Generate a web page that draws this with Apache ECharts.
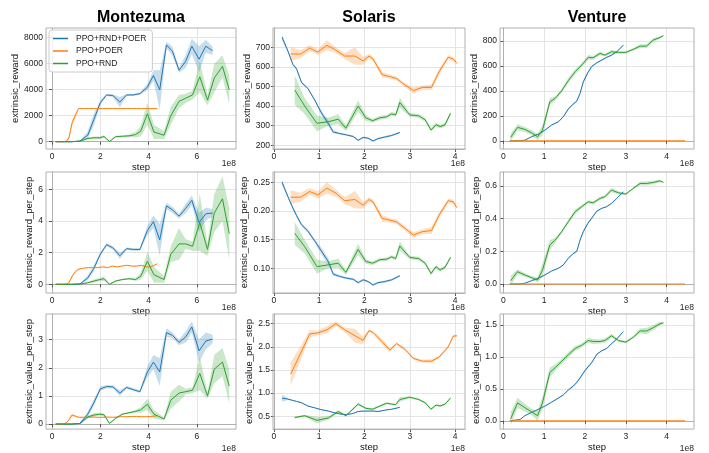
<!DOCTYPE html>
<html><head><meta charset="utf-8">
<script src="https://cdn.jsdelivr.net/npm/echarts@6/dist/echarts.min.js"></script>
<style>html,body{margin:0;padding:0;background:#fff}#c{width:709px;height:453px}</style>
</head><body><div id="c"></div>
<script>
// ---------- labels ----------
const seriesNames = ['PPO+RND+POER', 'PPO+POER', 'PPO+RND'];
const games = ['Montezuma', 'Solaris', 'Venture'];
const metrics = ['extrinsic_reward', 'extrinsic_reward_per_step', 'extrinsic_value_per_step'];
const xName = 'step';
const xOffsetText = '1e8';

// ---------- tick labels ----------
const monXTicks = ['0', '2', '4', '6'];
const solXTicks = ['0', '1', '2', '3', '4'];
const venXTicks = ['0', '1', '2', '3', '4'];
const monRTicks = ['0', '2000', '4000', '6000', '8000'];
const solRTicks = ['200', '300', '400', '500', '600', '700'];
const venRTicks = ['0', '200', '400', '600', '800'];
const monRPSTicks = ['0', '2', '4', '6'];
const solRPSTicks = ['0.10', '0.15', '0.20', '0.25'];
const venRPSTicks = ['0.0', '0.2', '0.4', '0.6'];
const monVTicks = ['0', '1', '2', '3'];
const solVTicks = ['0.5', '1.0', '1.5', '2.0', '2.5'];
const venVTicks = ['0.0', '0.5', '1.0', '1.5'];

// ---------- Montezuma (x in units of 1e8 steps) ----------
const monBlueX = [0.15,0.45,0.8,1.15,1.48,1.73,2.0,2.26,2.52,2.81,3.09,3.37,3.64,3.95,4.2,4.46,4.74,4.99,5.26,5.54,5.79,6.09,6.37,6.65];
const monBlueR = [0,0,0,50,500,1700,3000,3600,3550,3050,3600,3600,3700,4200,5100,4000,7450,6950,5500,6200,7350,6350,7350,7000];
const monBlueRErr = [0,0,0,30,300,450,200,80,100,400,80,80,80,250,400,1500,250,350,200,500,600,1000,500,300];
const monBlueRPS = [0,0,0,0.02,0.4,1.0,1.9,2.5,2.3,1.8,2.25,2.2,2.2,3.4,3.95,2.8,4.95,4.7,4.3,4.8,5.3,3.9,4.45,4.5];
const monBlueRPSErr = [0,0,0,0.02,0.15,0.2,0.1,0.1,0.1,0.2,0.08,0.08,0.08,0.3,0.4,1.0,0.2,0.2,0.15,0.3,0.3,0.6,0.4,0.25];
const monBlueV = [0,0,0,0.02,0.35,0.75,1.25,1.33,1.32,1.1,1.3,1.22,1.15,1.85,2.2,1.85,3.25,3.15,2.9,3.1,3.45,2.6,2.95,3.02];
const monBlueVErr = [0,0,0,0.02,0.1,0.12,0.08,0.06,0.06,0.1,0.05,0.05,0.05,0.2,0.25,0.5,0.15,0.1,0.1,0.2,0.2,0.4,0.3,0.15];

const monOrangeX = [0.15,0.45,0.6,0.7,0.83,0.97,1.1,1.3,1.5,1.7,1.9,2.1,2.3,2.5,2.7,2.9,3.1,3.3,3.5,3.7,3.9,4.1,4.36];
const monOrangeR = [0,0,50,300,1450,2050,2550,2550,2550,2550,2550,2550,2550,2550,2550,2550,2550,2550,2550,2550,2550,2550,2550];
const monOrangeRErr = [0,0,20,150,250,200,30,0,0,0,0,0,0,0,0,0,0,0,0,0,0,0,0];
const monOrangeRPS = [0,0,0.02,0.1,0.5,0.8,0.95,1.02,1.05,1.05,1.05,1.1,1.05,1.15,1.1,1.15,1.2,1.15,1.15,1.2,1.1,1.1,1.3];
const monOrangeRPSErr = [0,0,0.01,0.05,0.08,0.06,0.04,0.02,0.02,0.02,0.02,0.02,0.02,0.02,0.02,0.02,0.02,0.02,0.02,0.02,0.02,0.02,0.02];
const monOrangeV = [0,0,0.05,0.15,0.32,0.28,0.24,0.24,0.24,0.25,0.24,0.24,0.25,0.24,0.25,0.26,0.26,0.27,0.27,0.26,0.26,0.27,0.29];
const monOrangeVErr = [0,0,0.01,0.03,0.05,0.03,0.02,0.01,0.01,0.01,0.01,0.01,0.01,0.01,0.01,0.01,0.01,0.01,0.01,0.01,0.01,0.01,0.01];

const monGreenX = [0.15,0.45,0.8,1.18,1.48,1.73,1.98,2.15,2.38,2.63,2.91,3.19,3.46,3.67,3.95,4.22,4.64,4.92,5.26,5.54,5.82,6.12,6.44,6.72,7.06,7.34];
const monGreenR = [0,0,0,50,250,300,300,400,20,380,420,450,550,800,2150,750,500,2000,3100,3350,3600,5000,3200,4900,5800,4000];
const monGreenRErr = [0,0,0,20,80,100,100,100,50,80,80,100,200,400,850,550,300,700,500,350,350,1200,400,1100,850,1100];
const monGreenRPS = [0,0,0,0.02,0.1,0.2,0.3,0.35,0.0,0.2,0.3,0.35,0.3,0.5,1.45,0.6,0.3,1.9,2.55,2.55,2.4,3.9,2.2,4.5,5.4,3.2];
const monGreenRPSErr = [0,0,0,0.01,0.05,0.1,0.1,0.15,0.05,0.05,0.05,0.05,0.1,0.2,0.6,0.5,0.2,0.5,1.0,0.3,0.3,1.8,0.4,1.2,1.4,1.6];
const monGreenV = [0,0,0,0.02,0.25,0.32,0.35,0.33,0.02,0.2,0.35,0.4,0.45,0.5,0.7,0.35,0.18,0.85,1.1,1.15,1.2,1.8,1.0,1.95,2.2,1.35];
const monGreenVErr = [0,0,0,0.01,0.05,0.05,0.05,0.05,0.02,0.03,0.03,0.03,0.05,0.1,0.2,0.15,0.05,0.3,0.3,0.1,0.1,0.6,0.1,0.5,0.5,0.6];

// ---------- Solaris ----------
const solBlueX = [0.18,0.31,0.42,0.5,0.61,0.75,0.9,1.05,1.2,1.31,1.45,1.6,1.75,1.86,1.97,2.08,2.19,2.3,2.45,2.6,2.78];
const solBlueR = [751,680,612,590,520,490,431,365,312,268,260,253,245,225,240,236,222,234,242,250,265];
const solBlueRErr = [15,8,6,6,6,5,5,12,15,8,5,5,5,5,5,5,5,5,5,5,5];
const solBlueRPS = [0.25,0.225,0.205,0.192,0.176,0.165,0.148,0.13,0.112,0.09,0.086,0.083,0.081,0.075,0.08,0.077,0.071,0.075,0.077,0.08,0.087];
const solBlueRPSErr = [0.005,0.003,0.003,0.003,0.003,0.003,0.003,0.006,0.006,0.003,0.002,0.002,0.002,0.002,0.002,0.002,0.002,0.002,0.002,0.002,0.002];
const solBlueV = [0.89,0.87,0.84,0.82,0.79,0.72,0.68,0.64,0.61,0.58,0.55,0.53,0.56,0.6,0.61,0.61,0.61,0.6,0.63,0.65,0.69];
const solBlueVErr = [0.08,0.02,0.01,0.01,0.01,0.01,0.01,0.01,0.01,0.01,0.01,0.01,0.01,0.01,0.01,0.01,0.01,0.01,0.01,0.01,0.01];

const solOrangeX = [0.37,0.59,0.79,0.97,1.17,1.37,1.56,1.79,1.97,2.1,2.19,2.39,2.56,2.71,2.89,3.08,3.28,3.48,3.65,3.85,3.96,4.04];
const solOrangeR = [666,665,695,675,710,685,655,655,630,655,640,560,550,540,508,479,495,495,576,649,640,618];
const solOrangeRErr = [35,20,15,15,25,15,15,45,20,10,10,15,10,10,10,15,10,15,15,10,10,5];
const solOrangeRPS = [0.224,0.224,0.234,0.228,0.24,0.231,0.218,0.22,0.21,0.22,0.216,0.187,0.184,0.181,0.17,0.158,0.164,0.166,0.193,0.218,0.216,0.206];
const solOrangeRPSErr = [0.012,0.008,0.006,0.006,0.01,0.006,0.006,0.015,0.006,0.004,0.004,0.006,0.004,0.004,0.004,0.005,0.004,0.006,0.005,0.004,0.004,0.002];
const solOrangeV = [1.41,1.86,2.28,2.3,2.37,2.5,2.37,2.24,2.14,2.35,2.31,2.11,1.93,2.07,1.95,1.75,1.69,1.69,1.78,2.0,2.23,2.24];
const solOrangeVErr = [0.25,0.15,0.08,0.05,0.08,0.05,0.05,0.15,0.08,0.03,0.03,0.06,0.04,0.03,0.03,0.03,0.03,0.04,0.03,0.03,0.03,0.02];

const solGreenX = [0.46,0.68,0.95,1.2,1.42,1.59,1.86,2.03,2.18,2.34,2.49,2.6,2.69,2.78,3.0,3.2,3.34,3.47,3.58,3.67,3.78,3.9];
const solGreenR = [482,400,312,320,333,287,400,340,325,340,345,360,355,418,355,350,330,278,305,295,305,363];
const solGreenRErr = [75,40,40,20,25,15,30,15,10,10,10,10,10,25,10,10,10,10,10,10,10,10];
const solGreenRPS = [0.161,0.138,0.103,0.106,0.109,0.093,0.133,0.112,0.109,0.115,0.116,0.12,0.117,0.139,0.119,0.117,0.109,0.091,0.103,0.097,0.102,0.119];
const solGreenRPSErr = [0.02,0.012,0.012,0.006,0.008,0.004,0.01,0.004,0.003,0.003,0.003,0.003,0.003,0.008,0.003,0.003,0.003,0.003,0.003,0.003,0.003,0.003];
const solGreenV = [0.47,0.51,0.41,0.46,0.6,0.51,0.76,0.67,0.65,0.72,0.78,0.76,0.75,0.86,0.91,0.86,0.79,0.65,0.74,0.72,0.76,0.89];
const solGreenVErr = [0.02,0.02,0.07,0.04,0.03,0.02,0.03,0.02,0.02,0.02,0.02,0.02,0.02,0.05,0.02,0.02,0.02,0.02,0.02,0.02,0.02,0.02];

// ---------- Venture ----------
const venBlueX = [0.16,0.41,0.53,0.69,0.86,1.02,1.18,1.35,1.47,1.59,1.71,1.8,1.88,1.96,2.07,2.16,2.29,2.41,2.53,2.65,2.78,2.94];
const venBlueR = [0,0,5,32,53,85,125,152,192,253,293,317,379,472,544,592,624,645,667,685,712,765];
const venBlueRErr = [0,0,2,3,4,4,5,5,6,8,8,8,12,15,12,8,6,6,6,6,6,4];
const venBlueRPS = [0,0,0.005,0.02,0.035,0.055,0.079,0.096,0.116,0.157,0.185,0.2,0.268,0.32,0.37,0.4,0.445,0.462,0.472,0.492,0.523,0.563];
const venBlueRPSErr = [0,0,0.001,0.002,0.002,0.003,0.003,0.003,0.004,0.005,0.005,0.006,0.008,0.01,0.008,0.006,0.005,0.004,0.004,0.004,0.004,0.003];
const venBlueV = [0,0.02,0.08,0.13,0.18,0.23,0.29,0.355,0.405,0.48,0.54,0.6,0.67,0.75,0.84,0.905,1.04,1.095,1.13,1.205,1.28,1.395];
const venBlueVErr = [0,0.003,0.004,0.005,0.006,0.006,0.008,0.01,0.01,0.012,0.015,0.018,0.02,0.022,0.02,0.015,0.012,0.01,0.01,0.01,0.01,0.008];

const venOrangeX = [0.16, 4.45];
const venOrangeR = [0, 0];
const venOrangeRPS = [0, 0];
const venOrangeV = [0, 0];
const venOrangeErr = [0, 0];

const venGreenX = [0.18,0.35,0.53,0.69,0.84,0.96,1.14,1.27,1.43,1.59,1.76,1.92,2.08,2.2,2.37,2.49,2.65,2.82,3.0,3.18,3.35,3.51,3.67,3.84,3.92];
const venGreenR = [27,107,91,64,32,85,312,339,400,480,552,605,667,664,699,685,712,707,707,731,757,757,805,827,840];
const venGreenRErr = [30,25,20,20,25,40,30,15,15,20,20,15,20,15,15,10,15,10,10,10,15,15,15,10,5];
const venGreenRPS = [0.02,0.075,0.055,0.039,0.024,0.085,0.238,0.268,0.319,0.38,0.441,0.472,0.502,0.496,0.523,0.533,0.574,0.557,0.549,0.584,0.614,0.614,0.62,0.63,0.62];
const venGreenRPSErr = [0.03,0.015,0.01,0.01,0.015,0.04,0.03,0.015,0.01,0.012,0.015,0.01,0.01,0.01,0.01,0.01,0.012,0.01,0.006,0.006,0.012,0.012,0.01,0.008,0.003];
const venGreenV = [0.03,0.28,0.205,0.14,0.08,0.28,0.755,0.83,0.93,1.03,1.13,1.18,1.255,1.24,1.24,1.255,1.33,1.255,1.23,1.305,1.405,1.405,1.455,1.52,1.53];
const venGreenVErr = [0.1,0.08,0.06,0.05,0.08,0.1,0.08,0.05,0.04,0.04,0.04,0.03,0.04,0.04,0.03,0.03,0.03,0.02,0.02,0.02,0.04,0.05,0.04,0.03,0.02];

// ---------- assembly ----------
const runs = [
  [ {x: monBlueX, y: [monBlueR, monBlueRPS, monBlueV], e: [monBlueRErr, monBlueRPSErr, monBlueVErr]},
    {x: monOrangeX, y: [monOrangeR, monOrangeRPS, monOrangeV], e: [monOrangeRErr, monOrangeRPSErr, monOrangeVErr]},
    {x: monGreenX, y: [monGreenR, monGreenRPS, monGreenV], e: [monGreenRErr, monGreenRPSErr, monGreenVErr]} ],
  [ {x: solBlueX, y: [solBlueR, solBlueRPS, solBlueV], e: [solBlueRErr, solBlueRPSErr, solBlueVErr]},
    {x: solOrangeX, y: [solOrangeR, solOrangeRPS, solOrangeV], e: [solOrangeRErr, solOrangeRPSErr, solOrangeVErr]},
    {x: solGreenX, y: [solGreenR, solGreenRPS, solGreenV], e: [solGreenRErr, solGreenRPSErr, solGreenVErr]} ],
  [ {x: venBlueX, y: [venBlueR, venBlueRPS, venBlueV], e: [venBlueRErr, venBlueRPSErr, venBlueVErr]},
    {x: venOrangeX, y: [venOrangeR, venOrangeRPS, venOrangeV], e: [venOrangeErr, venOrangeErr, venOrangeErr]},
    {x: venGreenX, y: [venGreenR, venGreenRPS, venGreenV], e: [venGreenRErr, venGreenRPSErr, venGreenVErr]} ]
];
const xTicks = [monXTicks, solXTicks, venXTicks];
const yTicks = [[monRTicks, solRTicks, venRTicks], [monRPSTicks, solRPSTicks, venRPSTicks], [monVTicks, solVTicks, venVTicks]];
const xRange = [[-0.25, 7.62], [-0.02, 4.22], [-0.08, 4.67]];
const yRange = [[[-560, 8750], [181, 798], [-66, 902]],
                [[-0.55, 7.09], [0.057, 0.268], [-0.055, 0.684]],
                [[-0.18, 3.91], [0.22, 2.71], [-0.13, 1.67]]];

const COLORS = ['#1f77b4', '#ff7f0e', '#2ca02c'];
const BANDS = ['rgba(31,119,180,0.25)', 'rgba(255,127,14,0.25)', 'rgba(44,160,44,0.25)'];
const FONT = '"Liberation Sans", Arial, sans-serif';
const colLeft = [46, 273, 500], colWidth = [190, 192, 194];
const rowTop = [28, 172, 314], rowHeight = [121, 121, 120];
const nameGaps = [[24, 20, 20], [9.5, 23.5, 19], [9.5, 18, 18]];

function makeBand(color) {
  return function (params, api) {
    if (params.dataIndexInside !== 0) return null;
    const n = params.dataInsideLength;
    const top = [], bot = [];
    for (let j = 0; j < n; j++) {
      top.push(api.coord([api.value(0, j), api.value(2, j)]));
      bot.push(api.coord([api.value(0, j), api.value(1, j)]));
    }
    return {type: 'polygon', shape: {points: top.concat(bot.reverse())}, style: {fill: color}, silent: true};
  };
}
function fmt(labels) {
  return function (v) {
    for (const s of labels) if (Math.abs(Number(s) - v) < 1e-9) return s;
    return '';
  };
}
function axisCommon(labels) {
  const vals = labels.map(Number);
  const step = vals[1] - vals[0];
  return {
    type: 'value',
    minInterval: step, maxInterval: step,
    axisLine: {show: true, lineStyle: {color: '#b0b0b0', width: 1}},
    axisTick: {show: true, length: 3, inside: false, lineStyle: {color: '#555', width: 1}, customValues: vals},
    axisLabel: {customValues: vals, formatter: fmt(labels), fontSize: 8.5, fontFamily: FONT, color: '#222', margin: 3},
    splitLine: {show: true, lineStyle: {color: '#e4e4e4', width: 1}},
    nameTextStyle: {fontSize: 9.5, fontFamily: FONT, color: '#111'}
  };
}

const grid = [], xAxis = [], yAxis = [], series = [], graphic = [];
for (let r = 0; r < 3; r++) {
  for (let c = 0; c < 3; c++) {
    const idx = r * 3 + c;
    grid.push({left: colLeft[c], top: rowTop[r], width: colWidth[c], height: rowHeight[r],
      show: true, borderColor: '#b0b0b0', borderWidth: 1, backgroundColor: 'transparent', z: 10});
    xAxis.push(Object.assign(axisCommon(xTicks[c]), {
      gridIndex: idx, min: xRange[c][0], max: xRange[c][1],
      name: xName, nameLocation: 'middle', nameGap: 10
    }));
    yAxis.push(Object.assign(axisCommon(yTicks[r][c]), {
      gridIndex: idx, min: yRange[r][c][0], max: yRange[r][c][1],
      name: metrics[r], nameLocation: 'middle', nameGap: nameGaps[r][c]
    }));
    for (let s = 0; s < 3; s++) {
      const run = runs[c][s];
      const ys = run.y[r], es = run.e[r];
      series.push({
        type: 'custom', xAxisIndex: idx, yAxisIndex: idx, silent: true, z: 1, clip: true,
        renderItem: makeBand(BANDS[s]),
        encode: {x: 0, y: [1, 2]},
        data: run.x.map((x, i) => [x, ys[i] - es[i], ys[i] + es[i]])
      });
      series.push({
        type: 'line', name: seriesNames[s], xAxisIndex: idx, yAxisIndex: idx, silent: true, z: 2,
        symbol: 'none', color: COLORS[s], lineStyle: {width: 1, color: COLORS[s]},
        data: run.x.map((x, i) => [x, ys[i]])
      });
    }
    graphic.push({type: 'text', x: colLeft[c] + colWidth[c], y: rowTop[r] + rowHeight[r] + 15,
      style: {text: xOffsetText, align: 'right', verticalAlign: 'middle', fontSize: 8.5, fontFamily: FONT, fill: '#222'}});
  }
}
for (let c = 0; c < 3; c++) {
  graphic.push({type: 'text', x: colLeft[c] + colWidth[c] / 2, y: 17.5,
    style: {text: games[c], align: 'center', verticalAlign: 'middle', fontSize: 16, fontWeight: 'bold', fontFamily: FONT, fill: '#000'}});
}

const chart = echarts.init(document.getElementById('c'), null, {renderer: 'canvas'});
chart.setOption({
  animation: false,
  backgroundColor: '#fff',
  grid, xAxis, yAxis, series, graphic,
  legend: {
    data: seriesNames.map(n => ({name: n, icon: 'rect'})),
    orient: 'vertical', left: 49, top: 30, z: 20,
    itemWidth: 15, itemHeight: 1.5, itemGap: 3.5,
    padding: [4, 6, 4, 4], backgroundColor: 'rgba(255,255,255,0.85)',
    borderColor: '#cccccc', borderWidth: 1, borderRadius: 3,
    selectedMode: false,
    textStyle: {fontSize: 8.5, fontFamily: FONT, color: '#222', padding: [0, 0, 0, 3]}
  }
});
</script></body></html>
